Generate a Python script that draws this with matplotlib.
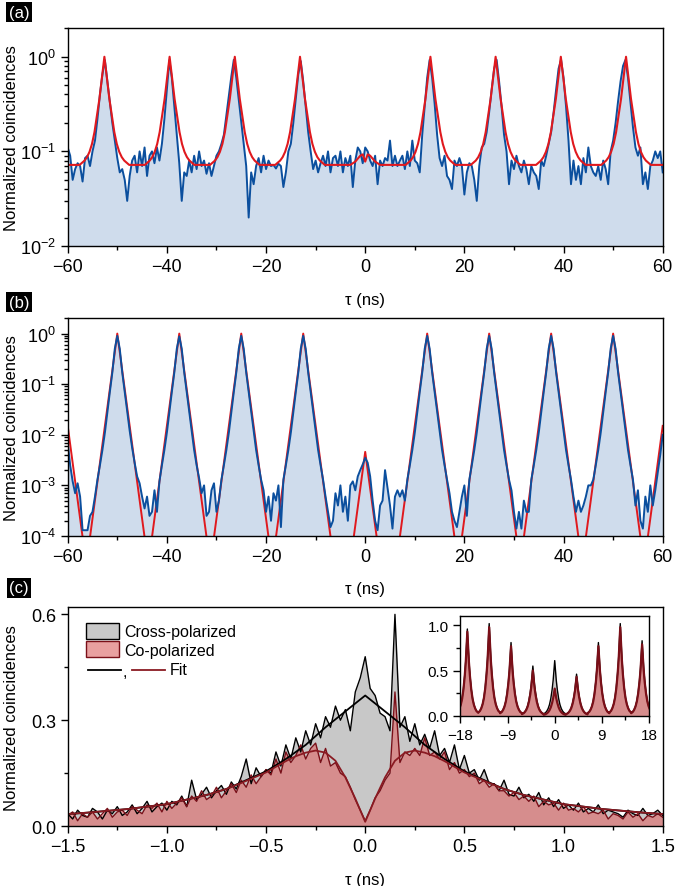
import numpy as np
import matplotlib
matplotlib.use('Agg')
import matplotlib.pyplot as plt
from matplotlib.patches import Patch
from matplotlib.ticker import MultipleLocator, LogLocator, NullFormatter

plt.rcParams['font.family'] = ['Liberation Sans', 'DejaVu Sans']
plt.rcParams['mathtext.fontset'] = 'custom'
plt.rcParams['mathtext.rm'] = 'Liberation Sans'
plt.rcParams['mathtext.it'] = 'Liberation Sans:italic'
plt.rcParams['axes.unicode_minus'] = True

# ---- panel (a): blue data, 0.5 ns bins from -60 to 60 ns
blue_a = [0.11, 0.09, 0.05, 0.065, 0.075, 0.07, 0.048, 0.085, 0.09, 0.07,
          0.1, 0.13, 0.22, 0.4, 0.65, 0.92, 0.55, 0.33, 0.2, 0.13,
          0.085, 0.06, 0.065, 0.05, 0.03, 0.055, 0.08, 0.09, 0.06, 0.1,
          0.07, 0.11, 0.055, 0.09, 0.1, 0.075, 0.11, 0.08, 0.12, 0.22,
          0.45, 0.92, 0.6, 0.3, 0.15, 0.075, 0.03, 0.06, 0.055, 0.08,
          0.06, 0.09, 0.065, 0.1, 0.07, 0.08, 0.058, 0.075, 0.055, 0.07,
          0.09, 0.1, 0.12, 0.15, 0.24, 0.38, 0.62, 0.93, 0.6, 0.35,
          0.2, 0.12, 0.07, 0.02, 0.06, 0.045, 0.07, 0.085, 0.06, 0.09,
          0.065, 0.08, 0.07, 0.072, 0.066, 0.074, 0.07, 0.042, 0.06, 0.1,
          0.12, 0.2, 0.36, 0.65, 0.9, 0.55, 0.3, 0.16, 0.1, 0.065,
          0.08, 0.06, 0.075, 0.09, 0.07, 0.1, 0.06, 0.085, 0.09, 0.07,
          0.1, 0.06, 0.085, 0.07, 0.09, 0.042, 0.08, 0.11, 0.1, 0.075,
          0.11, 0.1, 0.08, 0.07, 0.09, 0.045, 0.08, 0.07, 0.085, 0.08,
          0.13, 0.07, 0.09, 0.07, 0.08, 0.09, 0.065, 0.1, 0.07, 0.13,
          0.08, 0.075, 0.06, 0.15, 0.3, 0.6, 0.93, 0.6, 0.32, 0.15,
          0.085, 0.07, 0.09, 0.055, 0.05, 0.04, 0.08, 0.07, 0.085, 0.07,
          0.035, 0.06, 0.075, 0.07, 0.05, 0.03, 0.07, 0.11, 0.12, 0.16,
          0.26, 0.45, 0.75, 0.93, 0.55, 0.3, 0.15, 0.1, 0.045, 0.08,
          0.065, 0.09, 0.07, 0.06, 0.08, 0.065, 0.045, 0.07, 0.06, 0.055,
          0.04, 0.08, 0.07, 0.09, 0.12, 0.16, 0.26, 0.45, 0.75, 0.93,
          0.6, 0.3, 0.13, 0.045, 0.08, 0.05, 0.07, 0.045, 0.085, 0.06,
          0.11, 0.07, 0.06, 0.055, 0.07, 0.05, 0.08, 0.065, 0.045, 0.1,
          0.13, 0.2, 0.34, 0.55, 0.8, 0.93, 0.6, 0.33, 0.18, 0.11,
          0.09, 0.11, 0.045, 0.06, 0.04, 0.07, 0.08, 0.1, 0.085, 0.1,
          0.06]

# fit (a): peak centres, one peak profile, weak feature at zero delay
peaks_a = [-52.6, -39.45, -26.3, -13.15, 13.15, 26.3, 39.45, 52.6]
fit_a_base = 0.072
fit_a_offset = [-5, -4, -3.5, -3, -2.5, -2, -1.5, -1, -0.5, -0.25, 0,
                0.25, 0.5, 1, 1.5, 2, 2.5, 3, 3.5, 4, 5]
fit_a_profile = [0.072, 0.08, 0.087, 0.099, 0.12, 0.16, 0.24, 0.36, 0.6, 0.77, 1.0,
                 0.77, 0.6, 0.36, 0.24, 0.16, 0.12, 0.099, 0.087, 0.08, 0.072]
fit_a_mid_offset = [-3, -2, -1, -0.5, 0, 0.5, 1, 2, 3]
fit_a_mid_profile = [0.072, 0.078, 0.09, 0.093, 0.078, 0.093, 0.09, 0.078, 0.072]

# ---- panel (b): blue data, 0.5 ns bins from -60 to 60 ns
blue_b = [7e-3, 2.5e-3, 1.2e-3, 7e-4, 1.1e-3, 6e-4, 1.3e-4, 1.3e-4, 1.3e-4, 2.5e-4,
          3e-4, 6e-4, 1.3e-3, 2.5e-3, 5e-3, 0.011, 0.028, 0.07, 0.17, 0.5,
          0.9, 0.5, 0.17, 0.07, 0.03, 0.012, 5.5e-3, 2.8e-3, 1.5e-3, 1.1e-3,
          6e-4, 3.5e-4, 6e-4, 2.5e-4, 3e-4, 8e-4, 3e-4, 1.2e-3, 2.5e-3, 5e-3,
          0.011, 0.028, 0.07, 0.17, 0.5, 0.88, 0.5, 0.17, 0.07, 0.03,
          0.012, 5e-3, 2.5e-3, 1.4e-3, 7e-4, 1e-3, 2.5e-4, 3e-4, 8e-4, 1.1e-3,
          3e-4, 5e-4, 1.3e-3, 2.5e-3, 5e-3, 0.011, 0.028, 0.07, 0.17, 0.5,
          0.9, 0.5, 0.17, 0.07, 0.03, 0.012, 5e-3, 2.5e-3, 1.3e-3, 8e-4,
          3e-4, 6e-4, 2e-4, 7e-4, 5e-4, 1e-3, 1.5e-4, 1.3e-3, 2.5e-3, 5e-3,
          0.011, 0.028, 0.07, 0.17, 0.5, 0.9, 0.5, 0.17, 0.07, 0.03,
          0.012, 5e-3, 2.5e-3, 1.3e-3, 6e-4, 3e-4, 1.5e-4, 2e-4, 7e-4, 4e-4,
          1e-3, 3e-4, 6e-4, 2e-4, 1e-3, 1.2e-3, 8e-4, 1.5e-3, 2e-3, 2.6e-3,
          3.5e-3, 2.8e-3, 1.5e-3, 5e-4, 2e-4, 1.3e-4, 4e-4, 5e-4, 2e-3, 9e-4,
          4e-4, 1.4e-4, 6e-4, 8e-4, 6e-4, 8e-4, 5e-4, 1.3e-3, 2.5e-3, 5e-3,
          0.011, 0.028, 0.07, 0.17, 0.5, 0.9, 0.5, 0.17, 0.07, 0.03,
          0.012, 5e-3, 2.5e-3, 1.3e-3, 7e-4, 3e-4, 2e-4, 1.5e-4, 3e-4, 6e-4,
          1e-3, 2.5e-4, 1.3e-3, 2.5e-3, 5e-3, 0.011, 0.028, 0.07, 0.17, 0.5,
          0.9, 0.5, 0.17, 0.07, 0.03, 0.012, 5e-3, 2.5e-3, 1.3e-3, 8e-4,
          3e-4, 1.4e-4, 3e-4, 1.4e-4, 5e-4, 3e-4, 3e-4, 1.3e-3, 2.5e-3, 5e-3,
          0.011, 0.028, 0.07, 0.17, 0.5, 0.9, 0.5, 0.17, 0.07, 0.03,
          0.012, 5e-3, 2.5e-3, 1.3e-3, 6e-4, 3e-4, 5e-4, 3e-4, 4e-4, 6e-4,
          1e-3, 1e-3, 1.3e-3, 2.5e-3, 5e-3, 0.011, 0.028, 0.07, 0.17, 0.5,
          0.9, 0.5, 0.17, 0.07, 0.03, 0.012, 5e-3, 2.5e-3, 1.3e-3, 4e-4,
          8e-4, 2e-4, 1.4e-4, 6e-4, 3e-4, 1e-3, 4e-4, 8e-4, 1.8e-3, 4e-3,
          0.01]

# fit (b): straight lines on the log axis between peak tops and valleys
fit_b_tau = [-60, -56.25, -50, -43.75, -37.5, -31.25, -25, -18.75, -12.5, -4.65, 0,
             4.65, 12.5, 18.75, 25, 31.25, 37.5, 43.75, 50, 56.25, 60]
fit_b_val = [0.015, 2.7e-5, 1, 2.7e-5, 1, 2.7e-5, 1, 2.7e-5, 1, 1.9e-6, 4.6e-3,
             1.9e-6, 1, 2.7e-5, 1, 2.7e-5, 1, 2.7e-5, 1, 2.7e-5, 0.015]

# ---- panel (c): 25 ps bins from -1.5 to 1.5 ns
cross_c = [0.035, 0.02, 0.045, 0.03, 0.025, 0.05, 0.04, 0.02, 0.045, 0.035,
           0.055, 0.03, 0.04, 0.06, 0.035, 0.05, 0.07, 0.04, 0.055, 0.065,
           0.045, 0.07, 0.06, 0.085, 0.055, 0.13, 0.075, 0.09, 0.11, 0.08,
           0.1, 0.115, 0.09, 0.125, 0.105, 0.14, 0.19, 0.12, 0.165, 0.14,
           0.16, 0.15, 0.21, 0.17, 0.23, 0.19, 0.25, 0.21, 0.27, 0.23,
           0.29, 0.25, 0.31, 0.28, 0.34, 0.3, 0.33, 0.27, 0.38, 0.42,
           0.48, 0.39, 0.37, 0.32, 0.31, 0.27, 0.6, 0.28, 0.31, 0.24,
           0.29, 0.23, 0.26, 0.22, 0.27, 0.2, 0.22, 0.18, 0.23, 0.16,
           0.2, 0.15, 0.16, 0.13, 0.16, 0.12, 0.12, 0.1, 0.13, 0.09,
           0.085, 0.11, 0.08, 0.09, 0.07, 0.095, 0.06, 0.08, 0.055, 0.075,
           0.05, 0.06, 0.045, 0.065, 0.04, 0.05, 0.04, 0.06, 0.035, 0.045,
           0.04, 0.035, 0.025, 0.045, 0.035, 0.03, 0.05, 0.03, 0.035, 0.045,
           0.03]
co_c = [0.03, 0.04, 0.015, 0.035, 0.025, 0.04, 0.02, 0.035, 0.05, 0.025,
        0.04, 0.045, 0.03, 0.055, 0.045, 0.035, 0.06, 0.05, 0.065, 0.04,
        0.07, 0.05, 0.065, 0.08, 0.055, 0.085, 0.07, 0.1, 0.075, 0.085,
        0.11, 0.08, 0.1, 0.12, 0.095, 0.13, 0.11, 0.145, 0.12, 0.14,
        0.16, 0.145, 0.19, 0.15, 0.21, 0.18, 0.2, 0.23, 0.19, 0.22,
        0.235, 0.18, 0.22, 0.17, 0.18, 0.15, 0.14, 0.11, 0.075, 0.045,
        0.015, 0.045, 0.08, 0.1, 0.13, 0.15, 0.38, 0.18, 0.21, 0.2,
        0.22, 0.2, 0.25, 0.2, 0.21, 0.19, 0.21, 0.16, 0.18, 0.15,
        0.16, 0.14, 0.15, 0.12, 0.13, 0.11, 0.12, 0.1, 0.1, 0.085,
        0.095, 0.075, 0.085, 0.07, 0.085, 0.055, 0.07, 0.06, 0.065, 0.045,
        0.065, 0.045, 0.05, 0.04, 0.055, 0.035, 0.04, 0.035, 0.045, 0.02,
        0.035, 0.03, 0.02, 0.04, 0.025, 0.035, 0.015, 0.03, 0.025, 0.035,
        0.025]

fit_cross_tau = [-1.5, -1.4, -1.3, -1.2, -1.1, -1.0, -0.9, -0.8, -0.7, -0.6, -0.5,
                 -0.4, -0.3, -0.2, -0.1, 0.0, 0.1, 0.2, 0.3, 0.4, 0.5,
                 0.6, 0.7, 0.8, 0.9, 1.0, 1.1, 1.2, 1.3, 1.4, 1.5]
fit_cross = [0.034, 0.038, 0.043, 0.048, 0.055, 0.062, 0.075, 0.088, 0.105, 0.13, 0.155,
             0.19, 0.23, 0.28, 0.325, 0.37, 0.325, 0.28, 0.23, 0.19, 0.155,
             0.13, 0.105, 0.088, 0.075, 0.062, 0.055, 0.048, 0.043, 0.038, 0.034]
fit_co_tau = [-1.5, -1.4, -1.3, -1.2, -1.1, -1.0, -0.9, -0.8, -0.7, -0.6,
              -0.5, -0.4, -0.35, -0.3, -0.25, -0.2, -0.15, -0.1, -0.075, -0.05, -0.025,
              0.0,
              0.025, 0.05, 0.075, 0.1, 0.15, 0.2, 0.25, 0.3, 0.35, 0.4, 0.5,
              0.6, 0.7, 0.8, 0.9, 1.0, 1.1, 1.2, 1.3, 1.4, 1.5]
fit_co = [0.034, 0.038, 0.043, 0.048, 0.055, 0.062, 0.075, 0.088, 0.105, 0.128,
          0.152, 0.184, 0.198, 0.208, 0.214, 0.208, 0.185, 0.138, 0.108, 0.078, 0.045,
          0.012,
          0.045, 0.078, 0.108, 0.138, 0.185, 0.208, 0.214, 0.208, 0.198, 0.184, 0.152,
          0.128, 0.105, 0.088, 0.075, 0.062, 0.055, 0.048, 0.043, 0.038, 0.034]

# inset: peak centres, heights and one peak shape
inset_centers = [-16.667, -12.5, -8.333, -4.167, 0.0, 4.167, 8.333, 12.5, 16.667]
inset_cross_height = [0.96, 1.02, 0.81, 0.55, 0.61, 0.46, 0.81, 1.02, 0.83]
inset_co_height = [0.93, 0.98, 0.77, 0.5, 0.3, 0.43, 0.77, 0.98, 0.79]
inset_offset = [-2.083, -1.75, -1.5, -1.25, -1.0, -0.75, -0.5, -0.3, -0.15, 0,
                0.15, 0.3, 0.5, 0.75, 1.0, 1.25, 1.5, 1.75, 2.083]
inset_shape = [0.035, 0.055, 0.085, 0.13, 0.2, 0.31, 0.47, 0.64, 0.82, 1.0,
               0.82, 0.64, 0.47, 0.31, 0.2, 0.13, 0.085, 0.055, 0.035]

BLUE = '#0b4f9e'
BLUE_FILL = '#cfdcec'
RED = '#e0191e'
MAROON = '#7a0f18'
GREY = '#c8c8c8'
PINK = (0.87, 0.43, 0.43, 0.65)
FS_TICK = 13
FS_LAB = 12


def build_peaks(centres, offsets, profile, start, end, base, extra=None):
    xs, ys = [start], [base]
    segs = [(c, offsets, profile) for c in centres]
    if extra is not None:
        segs.append(extra)
    for c, off, prof in sorted(segs, key=lambda s: s[0]):
        xs.extend(c + o for o in off)
        ys.extend(prof)
    xs.append(end)
    ys.append(base)
    return xs, ys


def style_axis(ax, fs=FS_TICK):
    ax.tick_params(which='both', direction='out', top=False, right=False, labelsize=fs, width=1)
    ax.tick_params(which='major', length=5)
    ax.tick_params(which='minor', length=3)
    for s in ax.spines.values():
        s.set_linewidth(1.0)


fig = plt.figure(figsize=(6.75, 8.87), dpi=100)
ax_a = fig.add_axes([0.1003, 0.7215, 0.8815, 0.2455])
ax_b = fig.add_axes([0.1003, 0.3946, 0.8815, 0.2454])
ax_c = fig.add_axes([0.1003, 0.0676, 0.8815, 0.2466])

# (a)
tau_a = np.linspace(-60, 60, len(blue_a))
fx, fy = build_peaks(peaks_a, fit_a_offset, fit_a_profile, -60, 60, fit_a_base,
                     extra=(0.0, fit_a_mid_offset, fit_a_mid_profile))
ax_a.set_yscale('log')
ax_a.fill_between(tau_a, 1e-6, blue_a, color=BLUE_FILL, lw=0)
ax_a.plot(tau_a, blue_a, color=BLUE, lw=1.4)
ax_a.plot(fx, fy, color=RED, lw=1.5)
ax_a.set_ylim(0.01, 2.0)

# (b)
tau_b = np.linspace(-60, 60, len(blue_b))
ax_b.set_yscale('log')
ax_b.fill_between(tau_b, 1e-6, blue_b, color=BLUE_FILL, lw=0)
ax_b.plot(fit_b_tau, fit_b_val, color=RED, lw=1.4)
ax_b.plot(tau_b, blue_b, color=BLUE, lw=1.4)
ax_b.set_ylim(1e-4, 2.0)

for ax in (ax_a, ax_b):
    ax.set_xlim(-60, 60)
    ax.xaxis.set_major_locator(MultipleLocator(20))
    ax.xaxis.set_minor_locator(MultipleLocator(10))
    ax.yaxis.set_major_locator(LogLocator(base=10, numticks=10))
    ax.yaxis.set_minor_locator(LogLocator(base=10, subs=np.arange(2, 10), numticks=20))
    ax.yaxis.set_minor_formatter(NullFormatter())

# (c)
tau_c = np.linspace(-1.5, 1.5, len(cross_c))
ax_c.fill_between(tau_c, 0, cross_c, color=GREY, lw=0)
ax_c.fill_between(tau_c, 0, co_c, color=PINK, lw=0)
ax_c.plot(tau_c, cross_c, color='black', lw=1.0)
ax_c.plot(tau_c, co_c, color=MAROON, lw=1.0)
ax_c.plot(fit_cross_tau, fit_cross, color='black', lw=1.3)
ax_c.plot(fit_co_tau, fit_co, color='#8a1a22', lw=1.3)
ax_c.set_xlim(-1.5, 1.5)
ax_c.set_ylim(0, 0.62)
ax_c.xaxis.set_major_locator(MultipleLocator(0.5))
ax_c.xaxis.set_minor_locator(MultipleLocator(0.25))
ax_c.yaxis.set_major_locator(MultipleLocator(0.3))
ax_c.yaxis.set_minor_locator(MultipleLocator(0.15))
ax_c.xaxis.set_major_formatter(plt.FuncFormatter(lambda v, p: f'{v:.1f}'.replace('-', '\u2212')))
ax_c.yaxis.set_major_formatter(plt.FuncFormatter(lambda v, p: f'{v:.1f}'))

handles = [Patch(facecolor=GREY, edgecolor='black', lw=1.0),
           Patch(facecolor=PINK, edgecolor=MAROON, lw=1.0)]
ax_c.legend(handles, ['Cross-polarized', 'Co-polarized'], loc='upper left',
            bbox_to_anchor=(0.03, 0.93), frameon=False, fontsize=11.5,
            handlelength=2.1, handleheight=1.2, handletextpad=0.3,
            labelspacing=0.12, borderpad=0.0, borderaxespad=0)
# third legend row: "—, — Fit"
ax_c.plot([0.034, 0.09], [0.715, 0.715], color='black', lw=1.3, transform=ax_c.transAxes, clip_on=False)
ax_c.text(0.092, 0.705, ',', transform=ax_c.transAxes, fontsize=11.5, va='center')
ax_c.plot([0.108, 0.164], [0.715, 0.715], color='#8a1a22', lw=1.3, transform=ax_c.transAxes, clip_on=False)
ax_c.text(0.172, 0.715, 'Fit', transform=ax_c.transAxes, fontsize=11.5, va='center')

for ax in (ax_a, ax_b, ax_c):
    style_axis(ax)
    ax.set_xlabel('\u03c4 (ns)', fontsize=FS_LAB, labelpad=12)
    ax.set_ylabel('Normalized coincidences', fontsize=FS_LAB)
    ax.yaxis.set_label_coords(-0.082, 0.5)

# inset
ax_in = fig.add_axes([0.682, 0.192, 0.2796, 0.112])
ix, iy_cross = [], []
iy_co = []
for c, hx, hc in zip(inset_centers, inset_cross_height, inset_co_height):
    ix.extend(c + o for o in inset_offset)
    iy_cross.extend(hx * s for s in inset_shape)
    iy_co.extend(hc * s for s in inset_shape)
ax_in.fill_between(ix, 0, iy_cross, color=GREY, lw=0)
ax_in.plot(ix, iy_cross, color='black', lw=1.0)
ax_in.fill_between(ix, 0, iy_co, color=PINK, lw=0)
ax_in.plot(ix, iy_co, color=MAROON, lw=1.6)
ax_in.set_xlim(-18, 18)
ax_in.set_ylim(0, 1.1)
ax_in.xaxis.set_major_locator(MultipleLocator(9))
ax_in.xaxis.set_minor_locator(MultipleLocator(4.5))
ax_in.yaxis.set_major_locator(MultipleLocator(0.5))
ax_in.yaxis.set_minor_locator(MultipleLocator(0.25))
ax_in.yaxis.set_major_formatter(plt.FuncFormatter(lambda v, p: f'{v:.1f}'))
style_axis(ax_in, fs=11)

for lab, y in (('(a)', 0.985), ('(b)', 0.658), ('(c)', 0.336)):
    fig.text(0.028, y, lab, color='white', fontsize=12, ha='center', va='center',
             bbox=dict(boxstyle='square,pad=0.15', fc='black', ec='none'))

fig.savefig('out.png', dpi=100)
